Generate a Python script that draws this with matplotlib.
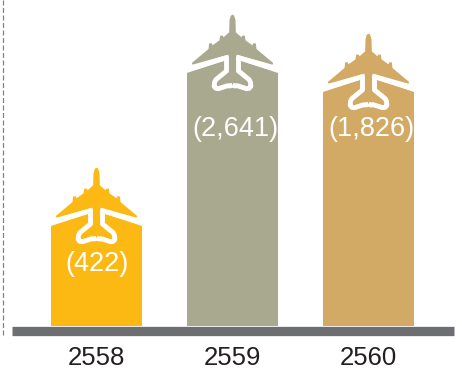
import numpy as np
import matplotlib
matplotlib.use('Agg')
import matplotlib.pyplot as plt
from matplotlib.lines import Line2D
from matplotlib.patches import PathPatch, Polygon
from matplotlib.path import Path
from matplotlib.transforms import Affine2D

plt.rcParams['font.family'] = ['Liberation Sans', 'DejaVu Sans']

# Data
years = ['2558', '2559', '2560']
values = [422, 2641, 1826]
labels = ['(422)', '(2,641)', '(1,826)']
colors = ['#fdb913', '#a9a98f', '#d2aa65']
label_drop = [38, 56, 37]  # px below the shoulder of each bar
label_shift = [0, 3, 3]  # px right of the bar centre

# The value axis is not linear: these knots give the bar height in px
scale_values = [0, 422, 1826, 2641, 3000]
scale_heights = [0, 100, 234, 253, 326]

W, H = 462, 372
BASE_Y = 326  # px from top


def forward(v):
    return np.interp(v, scale_values, scale_heights)


def inverse(h):
    return np.interp(h, scale_heights, scale_values)


# Plane outline, right half, in 1/3 px units. (0, 0) is level with the bar shoulder
half_body = [(0, -175), (5, -172), (9, -158), (10, -122), (27, -107), (29, -112),
             (37, -112), (39, -98), (60, -83), (62, -89), (70, -89), (72, -72),
             (122, -30), (120, -25), (12, -55), (11, 0), (0, 0)]
# White line under the wings and round the tail, right half
half_trim = [(0, 36), (7, 39), (14, 38), (42, 47), (50, 46), (55, 40), (54, 28),
             (50, 20), (18, -6), (18, -46), (142, -8)]


def mirrored(half):
    left = [(-x, y) for x, y in reversed(half[1:-1])]
    return half + left


fig = plt.figure(figsize=(W / 100, H / 100), dpi=100)
ax = fig.add_axes([0, (H - BASE_Y) / H, 1, BASE_Y / H])
ax.set_yscale('function', functions=(forward, inverse))
ax.set_ylim(0, 3000)
# Bars sit 136 px apart with the first centred at 96.5 px
ax.set_xlim(-96.5 / 136, (W - 96.5) / 136)

x = np.arange(len(years))
ax.bar(x, values, width=91.5 / 136, color=colors, linewidth=0)

for i, (v, c) in enumerate(zip(values, colors)):
    px, py = ax.transData.transform((i, v))
    tr = Affine2D().scale(1 / 3, -1 / 3).translate(px, py)

    # roof of the bar
    ax.add_patch(Polygon([(-137, 0), (0, -45), (137, 0)], closed=True, transform=tr,
                         facecolor=c, edgecolor='none', clip_on=False))
    # plane body and wings
    ax.add_patch(Polygon(mirrored(half_body), closed=True, transform=tr,
                         facecolor=c, edgecolor='none', clip_on=False))
    # white trim, both halves
    for sign in (1, -1):
        trim = [(sign * a, b) for a, b in half_trim]
        ax.add_patch(PathPatch(Path(trim), transform=tr, fill=False, edgecolor='white',
                               linewidth=3.5, joinstyle='round', capstyle='butt', clip_on=False))

    ax.annotate(labels[i], (i, v), xytext=(label_shift[i] * 0.72, -label_drop[i] * 0.72),
                textcoords='offset points', ha='center', va='center', color='white', fontsize=19.5)

ax.set_xticks(x, years)
ax.set_yticks([])
ax.minorticks_off()
ax.tick_params(axis='x', length=0, pad=11, labelsize=18.5, labelcolor='#231f20')
ax.patch.set_visible(False)

for side in ['top', 'left', 'right']:
    ax.spines[side].set_visible(False)

# Thick grey baseline below the bars
ax.spines['bottom'].set_position(('outward', 4.65 * 0.72))
ax.spines['bottom'].set_linewidth(9.3 * 0.72)
ax.spines['bottom'].set_color('#6d6e71')
ax.spines['bottom'].set_capstyle('butt')
ax.spines['bottom'].set_bounds((12 - 96.5) / 136, (454 - 96.5) / 136)

# Dashed rule down the left edge
fig.add_artist(Line2D([2.7 / W, 2.7 / W], [1, (H - 335) / H], transform=fig.transFigure,
                      color='#808285', linewidth=0.9, linestyle=(0, (4, 2))))

fig.savefig('out.png', dpi=100)
